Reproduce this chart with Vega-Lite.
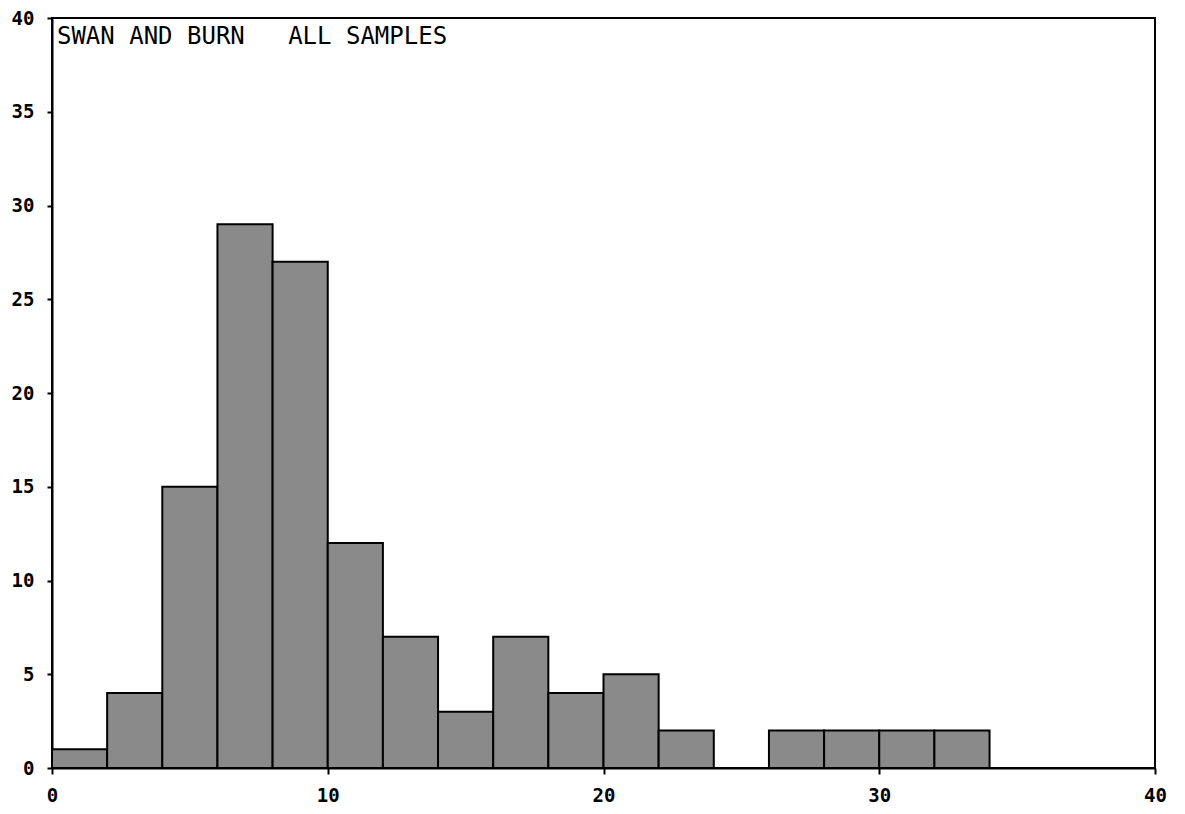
{
  "$schema": "https://vega.github.io/schema/vega-lite/v6.json",
  "width": 1103,
  "height": 750,
  "autosize": {"type": "none"},
  "padding": {"left": 52, "top": 18, "right": 30, "bottom": 46},
  "background": "white",
  "config": {
    "view": {"stroke": "black", "strokeWidth": 2},
    "font": "DejaVu Sans Mono",
    "axis": {
      "labelFont": "DejaVu Sans Mono",
      "labelFontSize": 19,
      "labelFontWeight": "bold",
      "labelColor": "black",
      "domainColor": "black",
      "domainWidth": 2,
      "tickColor": "black",
      "tickWidth": 2,
      "grid": false,
      "title": null
    }
  },
  "layer": [
    {
      "data": {
        "values": [
          {"bin_start": 0, "bin_end": 2, "count": 1},
          {"bin_start": 2, "bin_end": 4, "count": 4},
          {"bin_start": 4, "bin_end": 6, "count": 15},
          {"bin_start": 6, "bin_end": 8, "count": 29},
          {"bin_start": 8, "bin_end": 10, "count": 27},
          {"bin_start": 10, "bin_end": 12, "count": 12},
          {"bin_start": 12, "bin_end": 14, "count": 7},
          {"bin_start": 14, "bin_end": 16, "count": 3},
          {"bin_start": 16, "bin_end": 18, "count": 7},
          {"bin_start": 18, "bin_end": 20, "count": 4},
          {"bin_start": 20, "bin_end": 22, "count": 5},
          {"bin_start": 22, "bin_end": 24, "count": 2},
          {"bin_start": 26, "bin_end": 28, "count": 2},
          {"bin_start": 28, "bin_end": 30, "count": 2},
          {"bin_start": 30, "bin_end": 32, "count": 2},
          {"bin_start": 32, "bin_end": 34, "count": 2}
        ]
      },
      "mark": {"type": "rect", "fill": "#8a8a8a", "stroke": "black", "strokeWidth": 2},
      "encoding": {
        "x": {
          "field": "bin_start",
          "type": "quantitative",
          "scale": {"domain": [0, 40], "nice": false, "zero": false},
          "axis": {"values": [0, 10, 20, 30, 40], "labelPadding": 12, "tickSize": 6, "labelAlign": "center"}
        },
        "x2": {"field": "bin_end"},
        "y": {
          "field": "count",
          "type": "quantitative",
          "scale": {"domain": [0, 40], "nice": false},
          "axis": {"values": [0, 5, 10, 15, 20, 25, 30, 35, 40], "labelPadding": 13, "tickSize": 5}
        },
        "y2": {"datum": 0}
      }
    },
    {
      "data": {"values": [{"x": 0.18, "y": 39.0, "label": "SWAN AND BURN\u00a0\u00a0\u00a0ALL SAMPLES"}]},
      "mark": {"type": "text", "align": "left", "baseline": "middle", "font": "DejaVu Sans Mono", "fontSize": 24, "color": "black"},
      "encoding": {
        "x": {"field": "x", "type": "quantitative"},
        "y": {"field": "y", "type": "quantitative"},
        "text": {"field": "label"}
      }
    }
  ]
}
